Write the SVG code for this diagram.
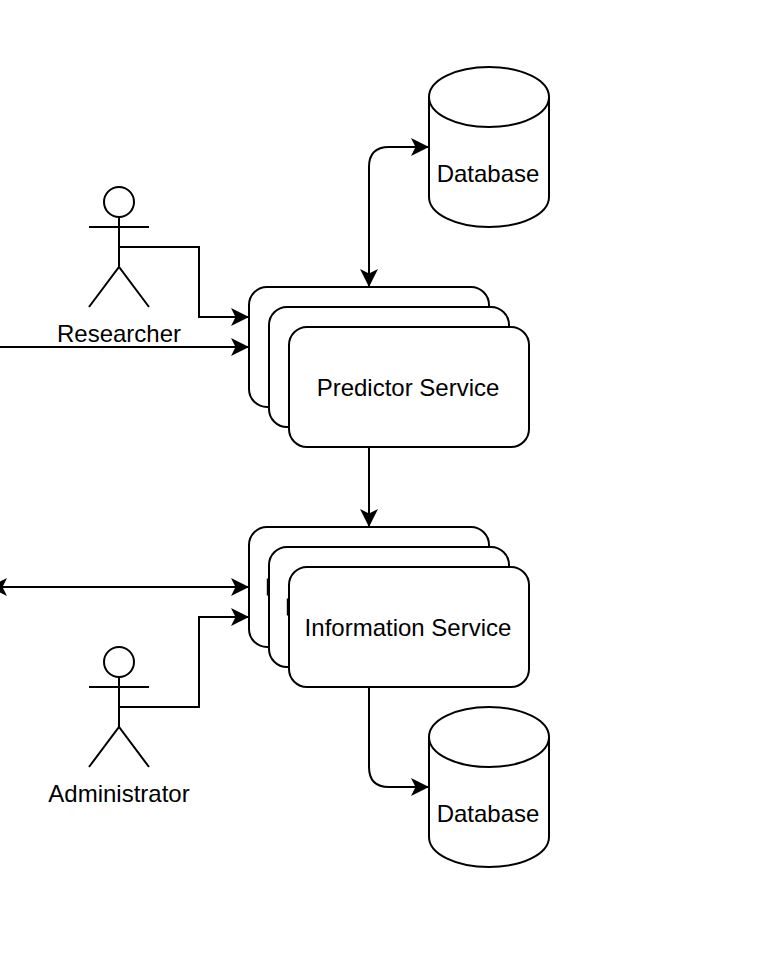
<svg xmlns="http://www.w3.org/2000/svg" width="780" height="970" viewBox="0 0 780 970">
<defs>
<marker id="a" markerUnits="userSpaceOnUse" markerWidth="20" markerHeight="20" refX="18" refY="10" orient="auto-start-reverse"><path d="M0 1L18 10L0 19L4.5 10Z" fill="#000"/></marker>
</defs>
<style>
text{font-family:"Liberation Sans",Arial,sans-serif;font-size:24px;text-anchor:middle;fill:#000}
.s{fill:#fff;stroke:#000;stroke-width:2}
.l{fill:none;stroke:#000;stroke-width:2}
.c{fill:none;stroke:#000;stroke-width:2;marker-end:url(#a)}
</style>
<rect width="780" height="970" fill="#fff"/>
<g id="connectors">
<path class="c" d="M369 287V167Q369 147 389 147H429" style="marker-start:url(#a)"/>
<path class="c" d="M119 247H199V317H249"/>
<path class="c" d="M-1 347H249"/>
<path class="c" d="M369 447V527"/>
<path class="c" d="M-11 587H249" style="marker-start:url(#a)"/>
<path class="c" d="M119 707H199V617H249"/>
<path class="c" d="M369 687V767Q369 787 389 787H429"/>
</g>
<g id="db1"><path class="s" d="M429 97C429 80 456 67 489 67C522 67 549 80 549 97V197C549 214 522 227 489 227C456 227 429 214 429 197Z"/><path class="l" d="M429 97C429 114 456 127 489 127C522 127 549 114 549 97"/><text x="488" y="182">Database</text></g>
<g id="researcher"><circle class="s" cx="119" cy="202" r="15"/><path class="l" d="M119 217V267M89 227H149M89 307L119 267L149 307"/><text x="119" y="342">Researcher</text></g>
<g id="predictor-1"><rect class="s" x="249" y="287" width="240" height="120" rx="18"/></g>
<g id="predictor-2"><rect class="s" x="269" y="307" width="240" height="120" rx="18"/></g>
<g id="predictor-3"><rect class="s" x="289" y="327" width="240" height="120" rx="18"/><text x="408" y="396">Predictor Service</text></g>
<g id="information-1"><rect class="s" x="249" y="527" width="240" height="120" rx="18"/><rect x="266.8" y="578.5" width="2.4" height="17"/></g>
<g id="information-2"><rect class="s" x="269" y="547" width="240" height="120" rx="18"/><rect x="286.8" y="598.5" width="2.4" height="17"/></g>
<g id="information-3"><rect class="s" x="289" y="567" width="240" height="120" rx="18"/><text x="408" y="636">Information Service</text></g>
<g id="administrator"><circle class="s" cx="119" cy="662" r="15"/><path class="l" d="M119 677V727M89 687H149M89 767L119 727L149 767"/><text x="119" y="802">Administrator</text></g>
<g id="db2"><path class="s" d="M429 737C429 720 456 707 489 707C522 707 549 720 549 737V837C549 854 522 867 489 867C456 867 429 854 429 837Z"/><path class="l" d="M429 737C429 754 456 767 489 767C522 767 549 754 549 737"/><text x="488" y="822">Database</text></g>
</svg>
